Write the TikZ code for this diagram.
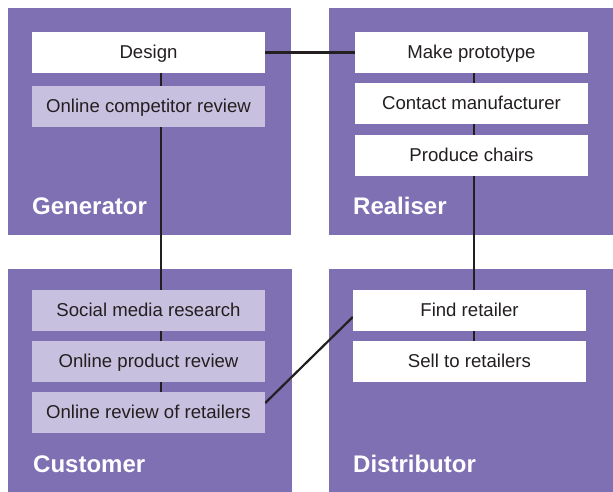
\documentclass[tikz,border=0pt]{standalone}
\usepackage{fontspec}
\setmainfont{Liberation Sans}
\definecolor{panelc}{HTML}{7F70B4}
\definecolor{lightc}{HTML}{C8C0DF}
\definecolor{textc}{HTML}{231F20}
\pgfdeclarelayer{panels}
\pgfdeclarelayer{lines}
\pgfsetlayers{panels,lines,main}
\begin{document}
\begin{tikzpicture}[x=1pt,y=-1pt,
  box/.style={rectangle,inner sep=0pt,minimum width=233pt,minimum height=41pt,
    text height=13.4pt,text depth=1.6pt,
    text=textc,font=\fontsize{18.6}{20}\selectfont},
  wbox/.style={box,fill=white},
  lbox/.style={box,fill=lightc},
  panel/.style={fill=panelc},
  title/.style={anchor=base west,inner sep=0pt,text=white,font=\fontsize{24}{26}\bfseries\selectfont},
  conn/.style={draw=textc,line width=2.2pt}]
\useasboundingbox (0,0) rectangle (613,492);
\begin{pgfonlayer}{panels}
\fill[panel] (8,8) rectangle (291,235);
\fill[panel] (329,8) rectangle (613,235);
\fill[panel] (8,269) rectangle (292,492);
\fill[panel] (329,269) rectangle (613,492);
\end{pgfonlayer}
% Generator
\node[wbox] (design) at (148.5,52.5) {Design};
\node[lbox] (ocr) at (148.5,106.5) {Online competitor review};
\node[title] (gen) at (32,214) {Generator};
% Realiser
\node[wbox] (make) at (471.5,52.5) {Make prototype};
\node[wbox] (contact) at (471.5,103.5) {Contact manufacturer};
\node[wbox] (produce) at (471.5,155.5) {Produce chairs};
\node[title] (real) at (353,214) {Realiser};
% Customer
\node[lbox] (smr) at (148.5,310.5) {Social media research};
\node[lbox] (opr) at (148.5,361.5) {Online product review};
\node[lbox] (orr) at (148.5,412.5) {Online review of retailers};
\node[title] (cust) at (33,472) {Customer};
% Distributor
\node[wbox] (find) at (469.5,310.5) {Find retailer};
\node[wbox] (sell) at (469.5,361.5) {Sell to retailers};
\node[title] (dist) at (353,472) {Distributor};
\begin{pgfonlayer}{lines}
\draw[conn] ([xshift=12.5pt]design.center) -- ([xshift=12.5pt]orr.center);
\draw[conn] ([xshift=2.5pt]make.center) -- ([xshift=4.5pt]sell.center);
\draw[conn] (design.east) -- (make.west);
\draw[conn] ([yshift=9.5pt]orr.east) -- ([yshift=-6.5pt]find.west);
\end{pgfonlayer}
\end{tikzpicture}
\end{document}
